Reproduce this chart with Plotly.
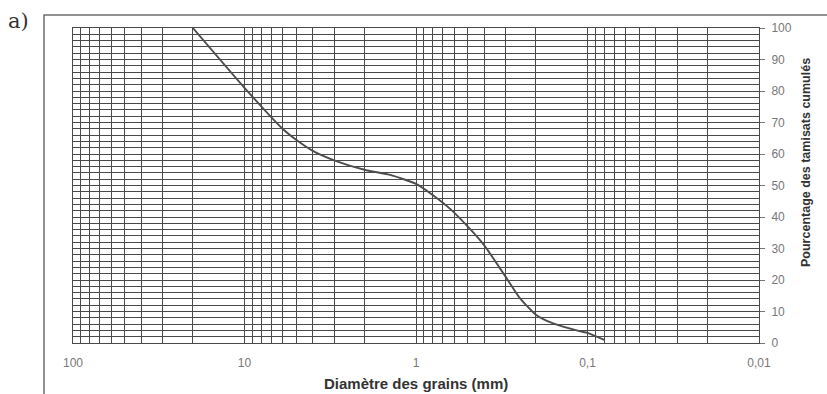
import numpy as np
import plotly.graph_objects as go

# Data
diam_mm = [20, 10, 6, 5, 4, 3, 2, 1.4, 1, 0.8, 0.63, 0.5, 0.4, 0.3, 0.25, 0.2, 0.16, 0.11, 0.1, 0.08]
passing = [100, 81, 68, 64.5, 61, 58, 55, 53.3, 50.5, 47, 42.5, 37, 31, 21, 14.5, 9, 6.3, 3.7, 3.2, 1]

x_tickvals = [100, 10, 1, 0.1, 0.01]
x_ticktext = ["100", "10", "1", "0,1", "0,01"]
y_tickvals = [0, 10, 20, 30, 40, 50, 60, 70, 80, 90, 100]

minor_x = [m * 10.0 ** e for e in range(-2, 2) for m in range(2, 10)]

W, H = 827, 394
L, R, T, B = 73, 68, 28, 51
pw, ph = W - L - R, H - T - B

fig = go.Figure()
fig.add_trace(go.Scatter(
    x=diam_mm, y=passing, mode="lines",
    line=dict(color="#4d4d4d", width=1.9, shape="spline", smoothing=0.6),
    hoverinfo="x+y", showlegend=False,
))

grid_col = "#4a4a4a"
fig.update_layout(
    width=W, height=H,
    margin=dict(l=L, r=R, t=T, b=B),
    paper_bgcolor="white", plot_bgcolor="white",
    font=dict(family="Liberation Sans, Arial, sans-serif", color="#777777", size=12),
    xaxis=dict(
        type="log", range=[2, -2],
        tickvals=x_tickvals, ticktext=x_ticktext,
        showgrid=True, gridcolor=grid_col, gridwidth=1,
        minor=dict(tickvals=minor_x, showgrid=True, gridcolor=grid_col, gridwidth=1, ticks=""),
        ticks="", showline=True, linecolor=grid_col, linewidth=1, mirror=True,
        zeroline=False, tickfont=dict(size=12, color="#777777"),
        ticklabelstandoff=9,
    ),
    yaxis=dict(
        range=[0, 100], side="right",
        tickvals=y_tickvals,
        showgrid=True, gridcolor=grid_col, gridwidth=1,
        minor=dict(dtick=2, showgrid=True, gridcolor=grid_col, gridwidth=1, ticks=""),
        ticks="outside", ticklen=5, tickcolor="#777777",
        showline=True, linecolor=grid_col, linewidth=1, mirror=True,
        zeroline=False, tickfont=dict(size=12, color="#777777"),
        ticklabelstandoff=4,
    ),
)

# outer frame of the chart (partly cropped in the scan)
fig.add_shape(type="rect", xref="paper", yref="paper",
              x0=(44 - L) / pw, x1=1.3, y0=-0.3, y1=1 + (T - 15) / ph,
              line=dict(color="#6e6e6e", width=1.5), layer="below")

fig.add_annotation(text="<b>Diamètre des grains (mm)</b>", xref="paper", yref="paper",
                   x=(416 - L) / pw, y=-(383 - (T + ph)) / ph, showarrow=False,
                   font=dict(size=15, color="#333333"), xanchor="center", yanchor="middle")
fig.add_annotation(text="<b>Pourcentage des tamisats cumulés</b>", xref="paper", yref="paper",
                   x=(806 - L) / pw, y=1 - (163 - T) / ph, showarrow=False, textangle=-90,
                   font=dict(size=12.5, color="#333333"), xanchor="center", yanchor="middle")
fig.add_annotation(text="a)", xref="paper", yref="paper",
                   x=(18 - L) / pw, y=1 + (T - 21) / ph, showarrow=False,
                   font=dict(family="DejaVu Serif, Liberation Serif, serif", size=21, color="#333333"),
                   xanchor="center", yanchor="middle")

fig.write_html("out.html")
